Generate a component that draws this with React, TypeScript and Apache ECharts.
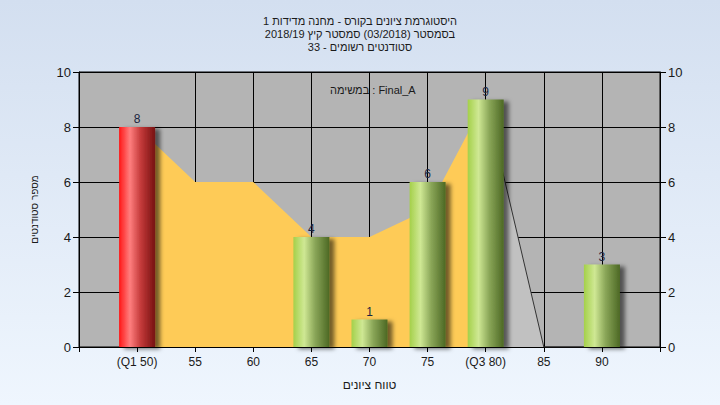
import React, { useEffect, useRef } from "react";
import * as echarts from "echarts";

const titleLines = [
  "היסטוגרמת ציונים בקורס - מחנה מדידות 1",
  "בסמסטר (03/2018) סמסטר קיץ 2018/19",
  "סטודנטים רשומים - 33",
];
const legendText = "במשימה : Final_A";
const xAxisName = "טווח ציונים";
const yAxisName = "מספר סטודנטים";

const scores = [50, 55, 60, 65, 70, 75, 80, 85, 90];
const counts = [8, 0, 0, 4, 1, 6, 9, 0, 3];
const q1Score = 50;
const q3Score = 80;

const trendScores = [50, 55, 60, 65, 70, 75, 80];
const trendValues = [8, 6, 6, 4, 4, 5, 9];

const tailScores = [80, 85, 90];
const tailValues = [9, 0, 0];

const yTicks = [0, 2, 4, 6, 8, 10];

const FONT = "'Liberation Sans', Arial, 'DejaVu Sans', sans-serif";
const TEXT_COLOR = "#1a1a1a";

const redGrad = new echarts.graphic.LinearGradient(0, 0, 1, 0, [
  { offset: 0, color: "#ff1616" },
  { offset: 0.3, color: "#ff7e7e" },
  { offset: 0.6, color: "#c43a3a" },
  { offset: 1, color: "#761010" },
]);
const greenGrad = new echarts.graphic.LinearGradient(0, 0, 1, 0, [
  { offset: 0, color: "#a4d04a" },
  { offset: 0.3, color: "#cfe894" },
  { offset: 0.6, color: "#8aa658" },
  { offset: 1, color: "#4c6824" },
]);

export default function App() {
  const ref = useRef<HTMLDivElement>(null);
  useEffect(() => {
    if (!ref.current) return;
    const chart = echarts.init(ref.current, undefined, { renderer: "svg" });
    const barData = scores
      .map((s, i) => ({ s, v: counts[i] }))
      .filter((d) => d.v > 0)
      .map((d) => ({
        value: [d.s, d.v],
        itemStyle: { color: d.s === q1Score ? redGrad : greenGrad },
      }));
    const splitColors: string[] = [];
    for (let v = 45; v <= 95; v += 5) {
      splitColors.push(v === 50 ? "rgba(0,0,0,0)" : "#000");
    }
    chart.setOption({
      animation: false,
      backgroundColor: new echarts.graphic.LinearGradient(0, 0, 0, 1, [
        { offset: 0, color: "#d3dff0" },
        { offset: 1, color: "#eff6fe" },
      ]),
      textStyle: { fontFamily: FONT },
      title: [
        {
          text: titleLines.join("\n"),
          left: "center",
          top: 9,
          textStyle: {
            fontSize: 11,
            fontWeight: "normal",
            color: TEXT_COLOR,
            lineHeight: 13,
            fontFamily: FONT,
          },
        },
        {
          text: legendText,
          left: 325,
          top: 79,
          textStyle: {
            fontSize: 11,
            fontWeight: "normal",
            color: TEXT_COLOR,
            fontFamily: FONT,
          },
        },
      ],
      grid: {
        left: 79,
        right: 60,
        top: 72,
        bottom: 58,
        show: true,
        backgroundColor: "#b4b4b4",
        borderColor: "#000",
        borderWidth: 1,
      },
      xAxis: {
        type: "value",
        min: 45,
        max: 95,
        interval: 5,
        name: xAxisName,
        nameLocation: "middle",
        nameGap: 32,
        nameTextStyle: { fontSize: 12, color: TEXT_COLOR, fontFamily: FONT },
        axisLine: { show: true, lineStyle: { color: "#000", width: 1 } },
        axisTick: { show: true, length: 5, lineStyle: { color: "#000" } },
        axisLabel: {
          fontSize: 12,
          color: TEXT_COLOR,
          margin: 9,
          fontFamily: FONT,
          formatter: (v: number) => {
            if (!scores.includes(v)) return "";
            if (v === q1Score) return "(Q1 " + v + ")";
            if (v === q3Score) return "(Q3 " + v + ")";
            return String(v);
          },
        },
        splitLine: { show: true, lineStyle: { color: splitColors, width: 1 } },
      },
      yAxis: [
        {
          type: "value",
          min: yTicks[0],
          max: yTicks[yTicks.length - 1],
          interval: 2,
          position: "left",
          name: yAxisName,
          nameLocation: "middle",
          nameRotate: 90,
          nameGap: 40,
          nameTextStyle: { fontSize: 10, color: TEXT_COLOR, fontFamily: FONT },
          axisLine: { show: true, lineStyle: { color: "#000" } },
          axisTick: { show: true, length: 6, lineStyle: { color: "#000" } },
          axisLabel: { fontSize: 13, color: TEXT_COLOR, margin: 8, fontFamily: FONT },
          splitLine: { show: true, lineStyle: { color: "#000", width: 1 } },
        },
        {
          type: "value",
          min: yTicks[0],
          max: yTicks[yTicks.length - 1],
          interval: 2,
          position: "right",
          axisLine: { show: true, lineStyle: { color: "#000" } },
          axisTick: { show: true, length: 6, lineStyle: { color: "#000" } },
          axisLabel: { fontSize: 13, color: TEXT_COLOR, margin: 8, fontFamily: FONT },
          splitLine: { show: false },
        },
      ],
      series: [
        {
          type: "line",
          data: trendScores.map((s, i) => [s, trendValues[i]]),
          symbol: "none",
          lineStyle: { width: 0 },
          areaStyle: { color: "#fecb57", opacity: 1 },
          z: 1,
          silent: true,
        },
        {
          type: "line",
          data: tailScores.map((s, i) => [s, tailValues[i]]),
          symbol: "none",
          lineStyle: { color: "#333", width: 1 },
          areaStyle: { color: "#c1c1c1", opacity: 1 },
          z: 1,
          silent: true,
        },
        {
          type: "bar",
          data: barData,
          barWidth: 36,
          z: 3,
          itemStyle: {
            shadowBlur: 4,
            shadowOffsetX: 5,
            shadowOffsetY: 2,
            shadowColor: "rgba(0,0,0,0.55)",
          },
          label: {
            show: true,
            position: "top",
            distance: 2,
            fontSize: 12,
            color: "#1b2540",
            fontFamily: FONT,
            formatter: (p: any) => String(p.value[1]),
          },
        },
      ],
    });
    return () => chart.dispose();
  }, []);
  return (
    <div
      ref={ref}
      style={{ position: "fixed", left: 0, top: 0, width: 720, height: 405 }}
    />
  );
}
